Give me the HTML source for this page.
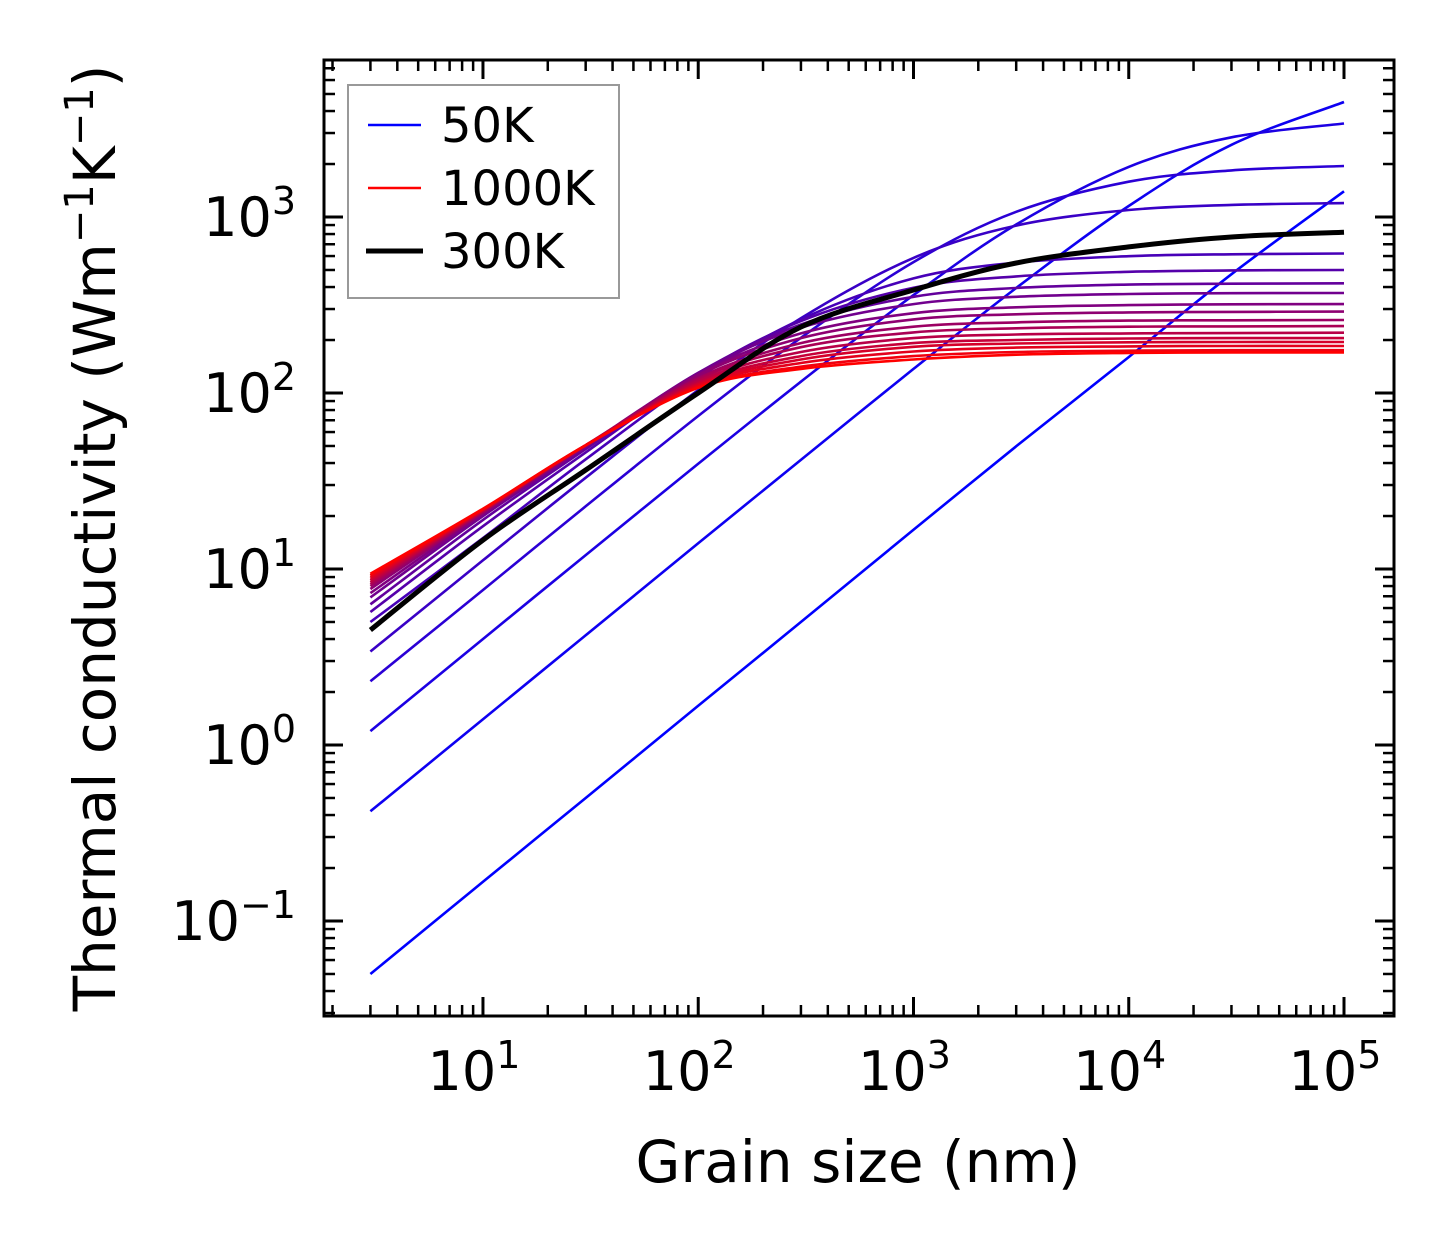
<!DOCTYPE html>
<html><head><meta charset="utf-8"><style>
html,body{margin:0;padding:0;background:#fff}
svg{display:block;font-family:"DejaVu Sans","Liberation Sans",sans-serif}
</style></head><body>
<svg id="chart" width="1454" height="1254" viewBox="0 0 1454 1254">
<rect width="1454" height="1254" fill="#fff"/>
<g id="series"></g>
<g id="axes"></g>
<g id="legend">
  <rect x="348" y="85" width="271" height="213" fill="#fff" stroke="#999" stroke-width="2"/>
  <line x1="368" y1="125" x2="421" y2="125" stroke="#0000ff" stroke-width="2.6"/>
  <text x="441" y="142" font-size="48">50K</text>
  <line x1="368" y1="188" x2="421" y2="188" stroke="#ff0000" stroke-width="2.6"/>
  <text x="441" y="205" font-size="48">1000K</text>
  <line x1="366" y1="251" x2="423" y2="251" stroke="#000" stroke-width="5"/>
  <text x="441" y="268" font-size="48">300K</text>
</g>
<text x="858" y="1182" font-size="58" text-anchor="middle">Grain size (nm)</text>
<text transform="translate(115,538) rotate(-90)" font-size="58" text-anchor="middle">Thermal conductivity (Wm<tspan dy="-22" font-size="40">−1</tspan><tspan dy="22">K</tspan><tspan dy="-22" font-size="40">−1</tspan><tspan dy="22">)</tspan></text>
</svg>
<script>
const grainSizes = [3, 10, 30, 100, 300, 1000, 3000, 10000, 30000, 100000];
const seriesValues = [
  [0.05, 0.167, 0.5, 1.67, 5.0, 16.7, 49.8, 160, 473, 1400],
  [0.42, 1.4, 4.2, 14, 41.7, 137, 395, 1155, 2571, 4500],
  [1.2, 4.0, 12, 39.6, 116, 360, 907, 1925, 2837, 3400],
  [2.3, 7.6, 22.7, 74, 206, 554, 1070, 1586, 1840, 1950],
  [3.4, 11.2, 33, 104, 266, 586, 894, 1096, 1171, 1200],
  [5.0, 15, 42, 122, 262, 448, 551, 599, 614, 620],
  [5.7, 17.5, 46, 128, 256, 396, 460, 488, 497, 500],
  [6.3, 19, 48, 130, 245, 352, 395, 413, 418, 420],
  [6.9, 20, 49, 130, 235, 320, 352, 365, 369, 370],
  [7.3, 20.5, 50, 128, 218, 284, 307, 316, 319, 320],
  [7.7, 21, 50, 126, 205, 262, 280, 287, 289, 290],
  [8.0, 21, 50.5, 122, 192, 238, 252, 258, 259, 260],
  [8.2, 21.3, 50.5, 120, 182, 221, 233, 238, 239, 240],
  [8.4, 21.5, 50.5, 117, 171, 205, 215, 218, 219, 220],
  [8.6, 21.5, 50.5, 114, 162, 192, 200, 204, 205, 205],
  [8.8, 21.7, 50.5, 112, 155, 183, 191, 194, 195, 195],
  [9.0, 21.8, 50.5, 110, 148, 172, 181, 184, 185, 185],
  [9.2, 21.9, 50.5, 108, 141, 162, 171, 174, 175, 175],
  [9.4, 22, 50.5, 107, 137, 155, 165, 169, 170, 170]
];
const series300K = [4.5, 14.6, 36.5, 100, 237, 385, 548, 676, 770, 820];
const xTickExps = [1, 2, 3, 4, 5];
const yTickExps = [-1, 0, 1, 2, 3];

const L = 324, R = 1394, T = 60, B = 1016;
const xMinE = 1 - (483 - L) / 215.3, xMaxE = 5 + (R - 1344) / 215.3;
const yMaxE = 3 + (217 - T) / 176, yMinE = -1 - (B - 921) / 176;
function xs(v) { return L + (Math.log10(v) - xMinE) / (xMaxE - xMinE) * (R - L); }
function ys(v) { return B - (Math.log10(v) - yMinE) / (yMaxE - yMinE) * (B - T); }

const NS = "http://www.w3.org/2000/svg";
function mk(tag, attrs, parent) {
  const e = document.createElementNS(NS, tag);
  for (const k in attrs) e.setAttribute(k, attrs[k]);
  parent.appendChild(e);
  return e;
}
function pathFor(vals) {
  const p = grainSizes.map((g, i) => [xs(g), ys(vals[i])]);
  let d = "M" + p[0][0].toFixed(1) + "," + p[0][1].toFixed(1);
  for (let i = 0; i < p.length - 1; i++) {
    const p0 = p[Math.max(0, i - 1)], p1 = p[i], p2 = p[i + 1], p3 = p[Math.min(p.length - 1, i + 2)];
    const c1 = [p1[0] + (p2[0] - p0[0]) / 6, p1[1] + (p2[1] - p0[1]) / 6];
    const c2 = [p2[0] - (p3[0] - p1[0]) / 6, p2[1] - (p3[1] - p1[1]) / 6];
    d += " C" + c1.map(v => v.toFixed(1)).join(",") + " " + c2.map(v => v.toFixed(1)).join(",") + " " + p2.map(v => v.toFixed(1)).join(",");
  }
  return d;
}
const sg = document.getElementById("series");
const n = seriesValues.length;
seriesValues.forEach((vals, i) => {
  const t = i / (n - 1);
  const el = mk("path", { d: pathFor(vals), fill: "none", stroke: `rgb(${Math.round(255 * t)},0,${Math.round(255 * (1 - t))})`, "stroke-width": 2.6 }, sg);
  
  
});
const blk = mk("path", { d: pathFor(series300K), fill: "none", stroke: "#000", "stroke-width": 5 }, sg);



const ax = document.getElementById("axes");
for (let e = 0; e <= 5; e++) {
  for (let m = 1; m < 10; m++) {
    const v = m * Math.pow(10, e);
    const x = xs(v);
    if (x < L + 1 || x > R - 1) continue;
    const len = m === 1 ? 19 : 11;
    const w = m === 1 ? 3 : 2.5;
    const t1 = mk("line", { x1: x, y1: B, x2: x, y2: B - len, stroke: "#000", "stroke-width": w }, ax);
    
    
    const t2 = mk("line", { x1: x, y1: T, x2: x, y2: T + len, stroke: "#000", "stroke-width": w }, ax);
    
    
  }
}
for (let e = -2; e <= 3; e++) {
  for (let m = 1; m < 10; m++) {
    const v = m * Math.pow(10, e);
    const y = ys(v);
    if (y > B - 1 || y < T + 1) continue;
    const len = m === 1 ? 19 : 11;
    const w = m === 1 ? 3 : 2.5;
    const t1 = mk("line", { x1: L, y1: y, x2: L + len, y2: y, stroke: "#000", "stroke-width": w }, ax);
    
    
    const t2 = mk("line", { x1: R, y1: y, x2: R - len, y2: y, stroke: "#000", "stroke-width": w }, ax);
    
    
  }
}
const frame = mk("rect", { x: L, y: T, width: R - L, height: B - T, fill: "none", stroke: "#000", "stroke-width": 3 }, ax);



xTickExps.forEach(e => {
  const x = xs(Math.pow(10, e));
  const t = mk("text", { x: x - 9, y: 1090, "font-size": 54, "text-anchor": "middle" }, ax);
  t.innerHTML = '10<tspan dy="-22" font-size="38">' + e + '</tspan>';
  
  
});
yTickExps.forEach(e => {
  const y = ys(Math.pow(10, e));
  const t = mk("text", { x: 296, y: y + 19, "font-size": 54, "text-anchor": "end" }, ax);
  t.innerHTML = '10<tspan dy="-22" font-size="38">' + (e < 0 ? '−' + (-e) : e) + '</tspan>';
  
  
});
</script>
</body></html>
